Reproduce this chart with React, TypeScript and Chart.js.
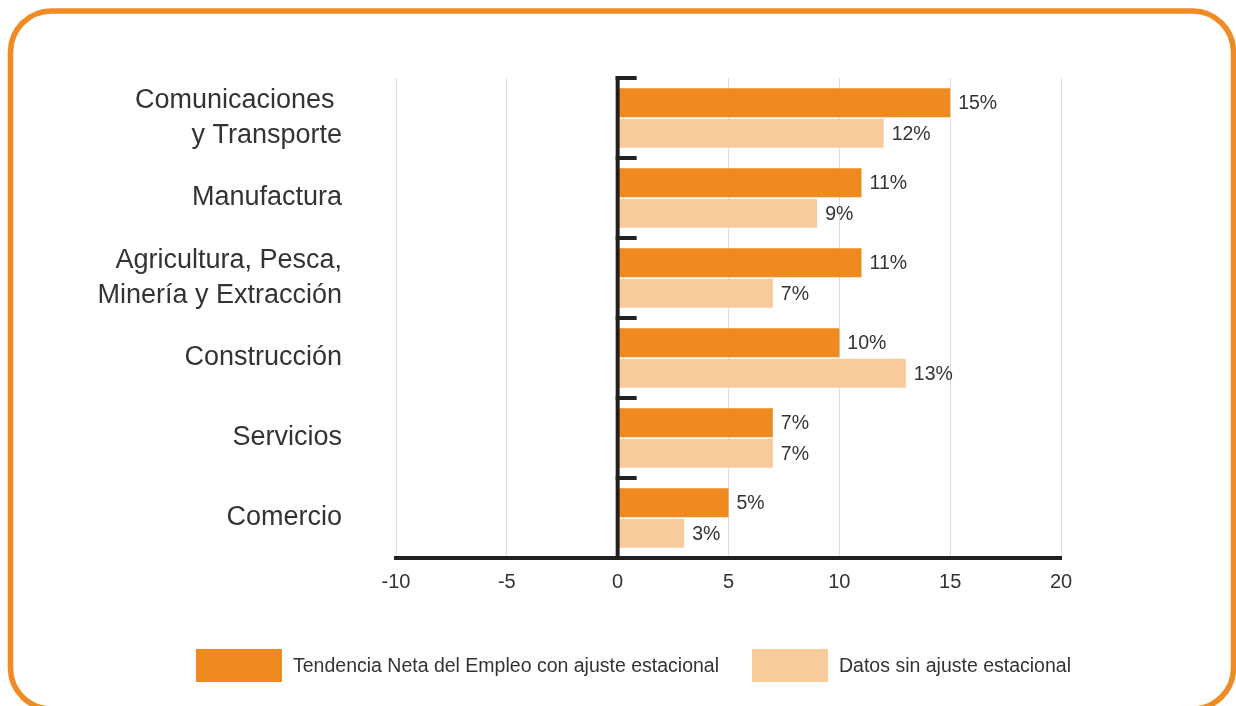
import React, { useEffect, useRef } from "react";
import { Chart, registerables } from "chart.js";

Chart.register(...registerables);

const categories: (string | string[])[] = [
  ["Comunicaciones ", "y Transporte"],
  "Manufactura",
  ["Agricultura, Pesca,", "Minería y Extracción"],
  "Construcción",
  "Servicios",
  "Comercio",
];
const seriesNames = [
  "Tendencia Neta del Empleo con ajuste estacional",
  "Datos sin ajuste estacional",
];
const adjustedValues = [15, 11, 11, 10, 7, 5];
const unadjustedValues = [12, 9, 7, 13, 7, 3];
const xTicks = [-10, -5, 0, 5, 10, 15, 20];

const seriesColors = ["#EE8A1F", "#F8CB9B"];
const legendBoxWidths = [86, 76];
const FONT = "'Liberation Sans', Arial, Helvetica, sans-serif";
const TEXT = "#333333";
const INK = "#231F20";
const FRAME = "#EF8B22";

const decorPlugin = {
  id: "decor",
  beforeDraw(chart: any) {
    const ctx = chart.ctx as CanvasRenderingContext2D;
    ctx.save();
    ctx.fillStyle = "#ffffff";
    ctx.fillRect(0, 0, chart.width, chart.height);
    ctx.strokeStyle = FRAME;
    ctx.lineWidth = 5.5;
    ctx.beginPath();
    (ctx as any).roundRect(10.5, 11, 1223, 698, 41);
    ctx.stroke();
    ctx.restore();
  },
  afterDatasetsDraw(chart: any) {
    const ctx = chart.ctx as CanvasRenderingContext2D;
    const { chartArea, scales } = chart;
    const xs = scales.x;
    const ys = scales.y;
    const x0 = xs.getPixelForValue(0);
    const band = ys.getPixelForValue(1) - ys.getPixelForValue(0);
    ctx.save();
    // zero axis line and category ticks
    ctx.strokeStyle = INK;
    ctx.lineWidth = 4;
    ctx.beginPath();
    ctx.moveTo(x0, chartArea.top - 2);
    ctx.lineTo(x0, chartArea.bottom + 2);
    ctx.stroke();
    categories.forEach((_, i) => {
      const y = ys.getPixelForValue(i) - band / 2;
      ctx.beginPath();
      ctx.moveTo(x0 - 2, y);
      ctx.lineTo(x0 + 19, y);
      ctx.stroke();
    });
    // value labels
    ctx.font = `19.5px ${FONT}`;
    ctx.fillStyle = TEXT;
    ctx.textAlign = "left";
    ctx.textBaseline = "middle";
    chart.data.datasets.forEach((ds: any, di: number) => {
      const meta = chart.getDatasetMeta(di);
      meta.data.forEach((el: any, i: number) => {
        ctx.fillText(`${ds.data[i]}%`, el.x + 8, el.y + 1);
      });
    });
    // legend
    let lx = 196;
    const ly = 649;
    const lh = 33;
    seriesNames.forEach((name, i) => {
      ctx.fillStyle = seriesColors[i];
      ctx.fillRect(lx, ly, legendBoxWidths[i], lh);
      lx += legendBoxWidths[i] + 11;
      ctx.fillStyle = TEXT;
      ctx.fillText(name, lx, ly + lh / 2 + 1);
      lx += ctx.measureText(name).width + 33;
    });
    ctx.restore();
  },
};

export default function App() {
  const canvasRef = useRef<HTMLCanvasElement | null>(null);

  useEffect(() => {
    if (!canvasRef.current) return;
    const chart = new Chart(canvasRef.current, {
      type: "bar",
      data: {
        labels: categories as any,
        datasets: [
          {
            label: seriesNames[0],
            data: adjustedValues,
            backgroundColor: seriesColors[0],
            barPercentage: 0.95,
            categoryPercentage: 0.7625,
          },
          {
            label: seriesNames[1],
            data: unadjustedValues,
            backgroundColor: seriesColors[1],
            barPercentage: 0.95,
            categoryPercentage: 0.7625,
          },
        ],
      },
      options: {
        indexAxis: "y",
        animation: false,
        responsive: false,
        devicePixelRatio: 1,
        layout: { padding: { left: 0, top: 78, right: 175, bottom: 98 } },
        plugins: {
          legend: { display: false },
          tooltip: { enabled: false },
          title: { display: false },
        },
        scales: {
          x: {
            type: "linear",
            min: xTicks[0],
            max: xTicks[xTicks.length - 1],
            afterBuildTicks: (s: any) => {
              s.ticks = xTicks.map((v) => ({ value: v }));
            },
            afterFit: (s: any) => {
              s.height = 50;
              s.paddingLeft = 0;
              s.paddingRight = 0;
            },
            ticks: {
              color: TEXT,
              font: { family: FONT, size: 20 },
              padding: 12,
              maxRotation: 0,
              autoSkip: false,
            },
            grid: {
              color: (c: any) => (c.tick && c.tick.value === 0 ? "rgba(0,0,0,0)" : "#DCDCDC"),
              lineWidth: 1,
              drawTicks: false,
            },
            border: { display: true, color: INK, width: 4 },
          },
          y: {
            type: "category",
            afterFit: (s: any) => {
              s.width = 396;
              s.paddingTop = 0;
              s.paddingBottom = 0;
            },
            ticks: {
              color: TEXT,
              font: { family: FONT, size: 27, lineHeight: 1.3 },
              padding: 54,
              autoSkip: false,
            },
            grid: { display: false, drawTicks: false },
            border: { display: false },
          },
        },
      } as any,
      plugins: [decorPlugin],
    });
    return () => chart.destroy();
  }, []);

  return (
    <div style={{ position: "absolute", left: 0, top: 0, width: 1236, height: 706 }}>
      <canvas ref={canvasRef} width={1236} height={706} style={{ display: "block" }} />
    </div>
  );
}
